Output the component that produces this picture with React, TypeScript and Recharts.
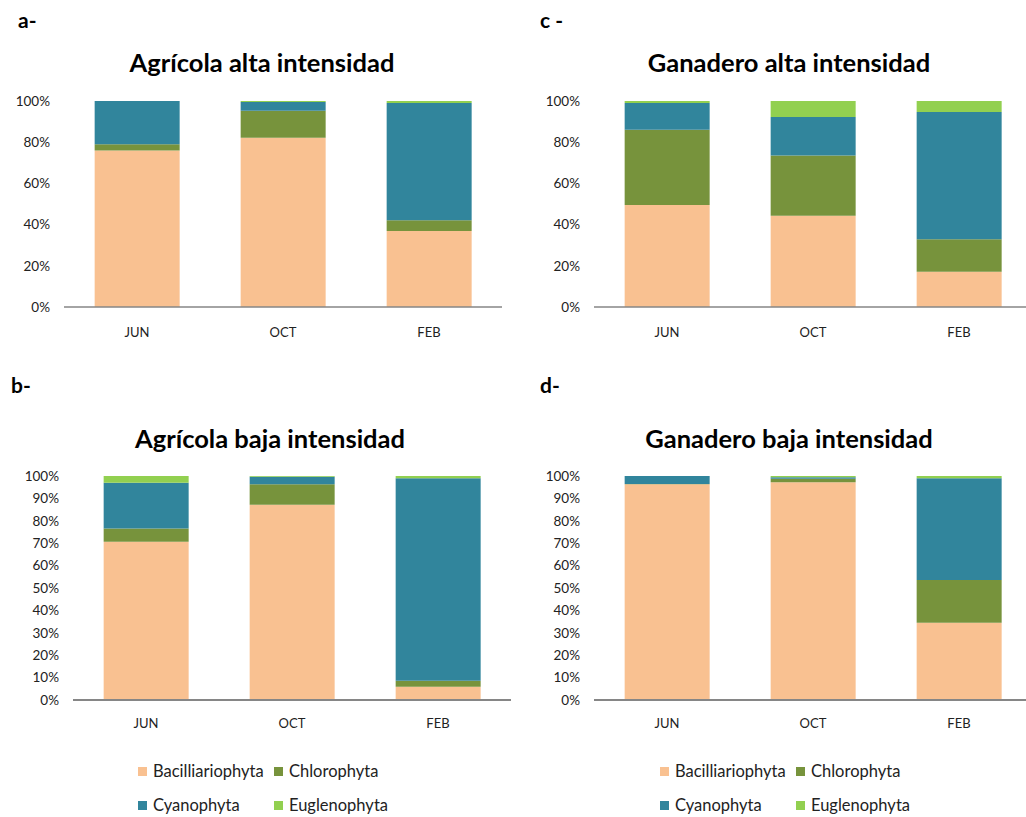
import React from 'react';
import { BarChart, Bar, XAxis, YAxis } from 'recharts';

const months = ['JUN', 'OCT', 'FEB'];
const taxa = ['Bacilliariophyta', 'Chlorophyta', 'Cyanophyta', 'Euglenophyta'];
const taxaColors = ['#F9C191', '#77933C', '#31859C', '#92D050'];

// a- Agrícola alta intensidad
const aBac = [76, 82.2, 36.9];
const aChl = [3, 13.1, 5.2];
const aCya = [21, 4.2, 56.9];
const aEug = [0, 0.5, 1];

// c- Ganadero alta intensidad
const cBac = [49.5, 44.3, 17.1];
const cChl = [36.6, 29.2, 15.8];
const cCya = [12.9, 18.7, 61.8];
const cEug = [1, 7.8, 5.3];

// b- Agrícola baja intensidad
const bBac = [70.7, 87.2, 5.9];
const bChl = [5.9, 9.1, 2.7];
const bCya = [20.4, 3.4, 90.4];
const bEug = [3, 0.3, 1];

// d- Ganadero baja intensidad
const dBac = [96.3, 97.2, 34.5];
const dChl = [0.1, 1.6, 19.1];
const dCya = [3.6, 0.6, 45.4];
const dEug = [0, 0.6, 1];

const ticks20 = [0, 20, 40, 60, 80, 100];
const ticks10 = [0, 10, 20, 30, 40, 50, 60, 70, 80, 90, 100];

const FONT = 'Lato, "Open Sans", sans-serif';

function buildRows(series: number[][]) {
  return months.map((m, i) => {
    const row: Record<string, string | number> = { month: m };
    taxa.forEach((t, k) => {
      row[t] = series[k][i];
    });
    return row;
  });
}

interface PanelProps {
  series: number[][];
  ticks: number[];
  left: number;
  top: number;
  height: number;
  axisWidth: number;
  labelGap: number;
}

function Panel({ series, ticks, left, top, height, axisWidth, labelGap }: PanelProps) {
  const data = buildRows(series);
  return (
    <div style={{ position: 'absolute', left, top }}>
      <BarChart
        width={502}
        height={height}
        data={data}
        margin={{ top: 10, right: 0, bottom: 0, left: 0 }}
        barCategoryGap="21%"
      >
        <XAxis
          dataKey="month"
          height={40}
          tickLine={false}
          tickSize={0}
          tickMargin={labelGap}
          stroke="#868686"
          strokeWidth={axisWidth}
          tick={{ fill: '#222', fontSize: 13, fontFamily: FONT }}
        />
        <YAxis
          width={64}
          domain={[0, 100]}
          ticks={ticks}
          interval={0}
          axisLine={false}
          tickLine={false}
          tickSize={0}
          tickMargin={14}
          tickFormatter={(v: number) => `${v}%`}
          tick={{ fill: '#222', fontSize: 13.5, fontFamily: FONT }}
        />
        {taxa.map((t, k) => (
          <Bar
            key={t}
            dataKey={t}
            stackId="s"
            fill={taxaColors[k]}
            isAnimationActive={false}
          />
        ))}
      </BarChart>
    </div>
  );
}

function LegendBlock({ left, top }: { left: number; top: number }) {
  return (
    <div style={{ position: 'absolute', left, top, fontFamily: FONT, fontSize: 16.5, color: '#222' }}>
      {taxa.map((t, k) => (
        <div
          key={t}
          style={{
            position: 'absolute',
            left: (k % 2) * 136,
            top: Math.floor(k / 2) * 34,
            whiteSpace: 'nowrap',
            display: 'flex',
            alignItems: 'center',
          }}
        >
          <span style={{ display: 'inline-block', width: 9, height: 9, background: taxaColors[k], marginRight: 6 }} />
          <span>{t}</span>
        </div>
      ))}
    </div>
  );
}

const titleStyle: React.CSSProperties = {
  position: 'absolute',
  fontFamily: FONT,
  fontWeight: 700,
  fontSize: 25.5,
  color: '#000',
  whiteSpace: 'nowrap',
  transform: 'translate(-50%, -50%)',
};

const letterStyle: React.CSSProperties = {
  position: 'absolute',
  fontFamily: FONT,
  fontWeight: 700,
  fontSize: 21,
  color: '#000',
};

export default function App() {
  return (
    <div
      style={{
        position: 'absolute',
        left: 0,
        top: 0,
        width: 1026,
        height: 817,
        overflow: 'hidden',
        background: '#fff',
      }}
    >
      <div style={{ ...letterStyle, left: 18, top: 7 }}>a-</div>
      <div style={{ ...letterStyle, left: 540, top: 7 }}>c -</div>
      <div style={{ ...letterStyle, left: 11, top: 372 }}>b-</div>
      <div style={{ ...letterStyle, left: 540, top: 372 }}>d-</div>

      <div style={{ ...titleStyle, left: 262, top: 62 }}>Agrícola alta intensidad</div>
      <div style={{ ...titleStyle, left: 789, top: 62 }}>Ganadero alta intensidad</div>
      <div style={{ ...titleStyle, left: 270, top: 438 }}>Agrícola baja intensidad</div>
      <div style={{ ...titleStyle, left: 789, top: 438 }}>Ganadero baja intensidad</div>

      <Panel series={[aBac, aChl, aCya, aEug]} ticks={ticks20} left={0} top={91} height={256} axisWidth={1.3} labelGap={21} />
      <Panel series={[cBac, cChl, cCya, cEug]} ticks={ticks20} left={530} top={91} height={256} axisWidth={1.3} labelGap={21} />
      <Panel series={[bBac, bChl, bCya, bEug]} ticks={ticks10} left={8.5} top={466} height={274} axisWidth={2.2} labelGap={19} />
      <Panel series={[dBac, dChl, dCya, dEug]} ticks={ticks10} left={530} top={466} height={274} axisWidth={2.2} labelGap={19} />

      <LegendBlock left={138} top={761} />
      <LegendBlock left={660} top={761} />
    </div>
  );
}
